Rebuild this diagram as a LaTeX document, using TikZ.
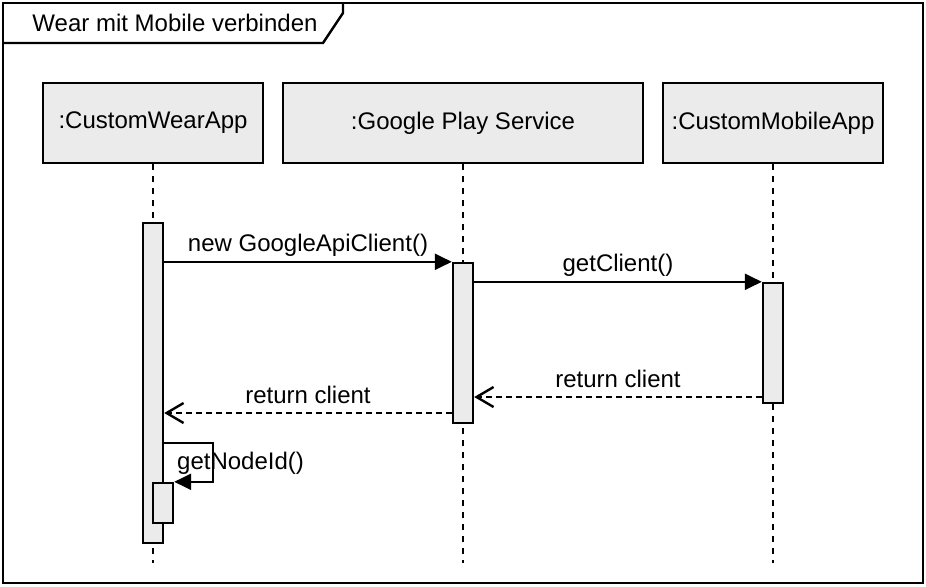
\documentclass[tikz,border=0pt]{standalone}
\usepackage{fontspec}
\setmainfont{Liberation Sans}
\usetikzlibrary{arrows.meta}
\definecolor{boxgray}{RGB}{235,235,235}

\tikzset{every picture/.style={line width=1.2pt}}
\tikzset{
  head/.style={draw, fill=boxgray, minimum height=40pt, inner sep=0pt},
  act/.style={draw, fill=boxgray, minimum width=10pt, inner sep=0pt},
  lifeline/.style={dash pattern={on 3pt off 3pt}},
  call/.style={-{Triangle[length=8.5pt,width=8pt]}},
  reply/.style={dash pattern={on 3pt off 2pt}, -{Straight Barb[length=8.5pt,width=10pt]}},
  msglbl/.style={midway, anchor=base, yshift=5pt, inner sep=0pt},
}

\begin{document}
\begin{tikzpicture}[x=0.5pt,y=-0.5pt,font=\fontsize{12}{14}\selectfont]
\useasboundingbox (0,0) rectangle (926,586);

%Frame
\draw (3,3) rectangle (923,583);
\draw (3,43) -- (323,43) -- (343,13) -- (343,3);
\node (title) at (175,23) {Wear mit Mobile verbinden};

%Lifeline heads
\node[head, minimum width=110pt] (wear) at (153,123) {:CustomWearApp};
\node[head, minimum width=180pt] (gps) at (463,123) {:Google Play Service};
\node[head, minimum width=110pt] (mobile) at (773,123) {:CustomMobileApp};

%Lifelines
\coordinate (bottom) at (0,563);
\draw[lifeline] (wear.south) -- (wear.south |- bottom);
\draw[lifeline] (gps.south) -- (gps.south |- bottom);
\draw[lifeline] (mobile.south) -- (mobile.south |- bottom);

%Activations
\node[act, minimum height=160pt] (wact) at (153,383) {};
\node[act, minimum height=80pt] (gact) at (463,343) {};
\node[act, minimum height=60pt] (mact) at (773,343) {};
\node[act, minimum height=20pt] (sact) at (163,503) {};

%Messages
\draw[call] (wact.east |- gact.north) -- (gact.north west) node[msglbl] {new GoogleApiClient()};
\draw[call] (gact.east |- mact.north) -- (mact.north west) node[msglbl] {getClient()};
\coordinate (ret1) at (773,397);
\draw[reply] (mact.west |- ret1) -- (gact.east |- ret1) node[msglbl] {return client};
\coordinate (ret2) at (463,413);
\draw[reply] (gact.west |- ret2) -- (wact.east |- ret2) node[msglbl] {return client};

%Self call
\coordinate (selfcall) at (213,443);
\draw[call] (wact.east |- selfcall) -- (selfcall) |- (sact.north east);
\node[anchor=west, inner sep=0pt] (nodeidlbl) at (176,463) {getNodeId()};
\end{tikzpicture}
\end{document}
